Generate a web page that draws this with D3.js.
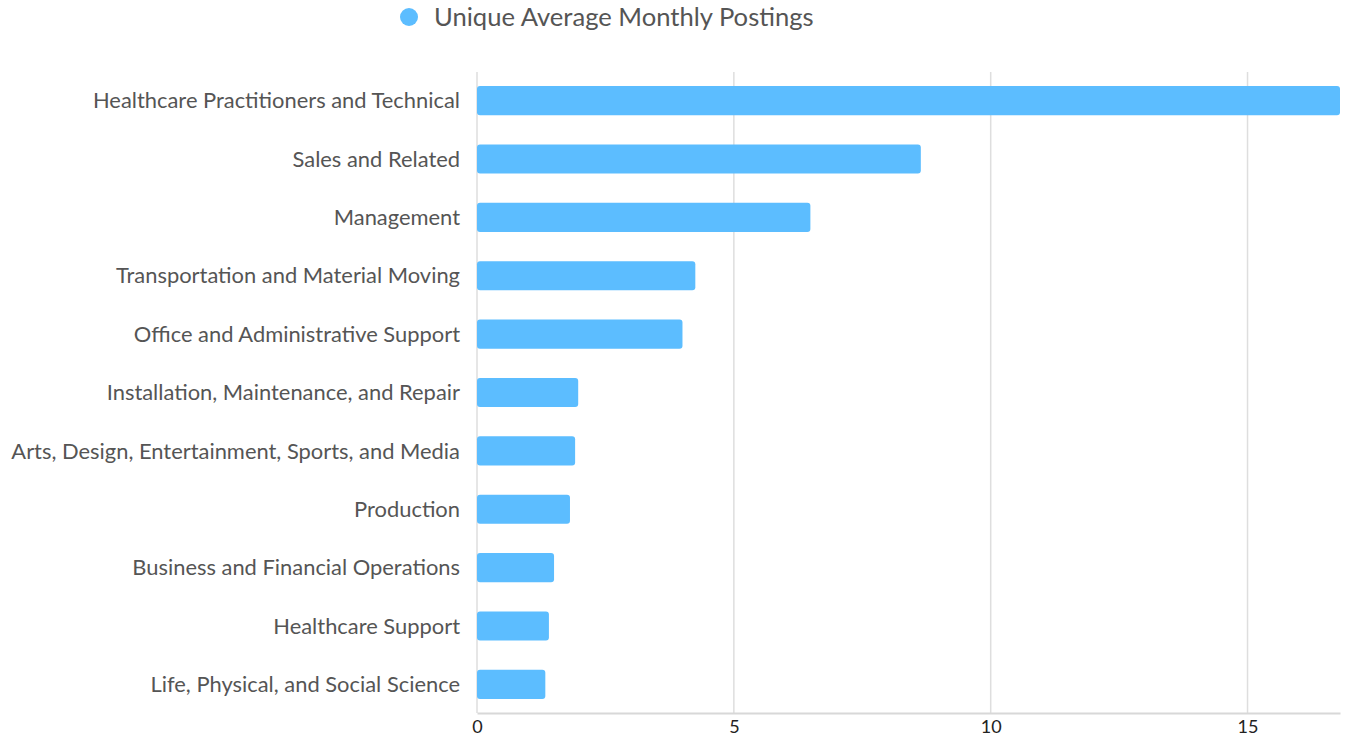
<!DOCTYPE html>
<html>
<head>
<meta charset="utf-8">
<script src="https://cdn.jsdelivr.net/npm/d3@7"></script>
<style>
  body { margin: 0; background: #fff; }
  text { font-family: Lato, "Open Sans", sans-serif; }
</style>
</head>
<body>
<div id="chart"></div>
<script>
var categories = [
  "Healthcare Practitioners and Technical",
  "Sales and Related",
  "Management",
  "Transportation and Material Moving",
  "Office and Administrative Support",
  "Installation, Maintenance, and Repair",
  "Arts, Design, Entertainment, Sports, and Media",
  "Production",
  "Business and Financial Operations",
  "Healthcare Support",
  "Life, Physical, and Social Science"
];
var values = [16.8, 8.64, 6.49, 4.25, 4.0, 1.97, 1.91, 1.81, 1.5, 1.4, 1.33];
var xTicks = [0, 5, 10, 15];
var seriesName = "Unique Average Monthly Postings";

var margin = { top: 72, right: 14, bottom: 27, left: 477 },
  width = 1354 - margin.left - margin.right,
  height = 740 - margin.top - margin.bottom;

var svg = d3.select("#chart")
  .append("svg")
  .attr("width", 1354)
  .attr("height", 740)

var g = svg.append("g")
  .attr("transform", "translate(" + margin.left + "," + margin.top + ")");

var x = d3.scaleLinear()
  .domain([0, d3.max(values)])
  .range([0, width]);

var y = d3.scaleBand()
  .domain(categories)
  .range([0, height])
  .paddingInner(0.5)
  .paddingOuter(0.24);

// grid lines
g.append("g")
  .selectAll("line")
  .data(xTicks)
  .enter()
  .append("line")
  .attr("x1", function (d) { return x(d); })
  .attr("x2", function (d) { return x(d); })
  .attr("y1", 0)
  .attr("y2", height)
  .attr("stroke", "#dedede")
  .attr("stroke-width", 1.5)

// bottom axis
var xAxis = g.append("g")
  .attr("transform", "translate(0," + height + ")")
  .call(d3.axisBottom(x).tickValues(xTicks).tickSize(0).tickPadding(7));
xAxis.select(".domain").attr("stroke", "#d8d8d8").attr("stroke-width", 2);
xAxis.selectAll("text")
  .style("font-size", "18px")
  .style("font-family", "Lato, sans-serif")
  .attr("fill", "#222");

// bars
g.append("g")
  .selectAll("rect")
  .data(values)
  .enter()
  .append("rect")
  .attr("x", x(0))
  .attr("y", function (d, i) { return y(categories[i]); })
  .attr("width", function (d) { return x(d) - x(0); })
  .attr("height", y.bandwidth())
  .attr("rx", 3)
  .attr("fill", "#5cbdff")

// category labels
g.append("g")
  .selectAll("text")
  .data(categories)
  .enter()
  .append("text")
  .attr("x", -17)
  .attr("y", function (d) { return y(d) + y.bandwidth() / 2; })
  .attr("dy", "0.35em")
  .attr("text-anchor", "end")
  .style("font-size", "21.9px")
  .attr("fill", "#555")
  .text(function (d) { return d; })

// legend
svg.append("circle")
  .attr("cx", 409)
  .attr("cy", 17)
  .attr("r", 9)
  .attr("fill", "#5cbdff")

svg.append("text")
  .attr("x", 434)
  .attr("y", 17)
  .attr("dy", "0.35em")
  .style("font-size", "25.6px")
  .attr("fill", "#555")
  .text(seriesName)
</script>
</body>
</html>
